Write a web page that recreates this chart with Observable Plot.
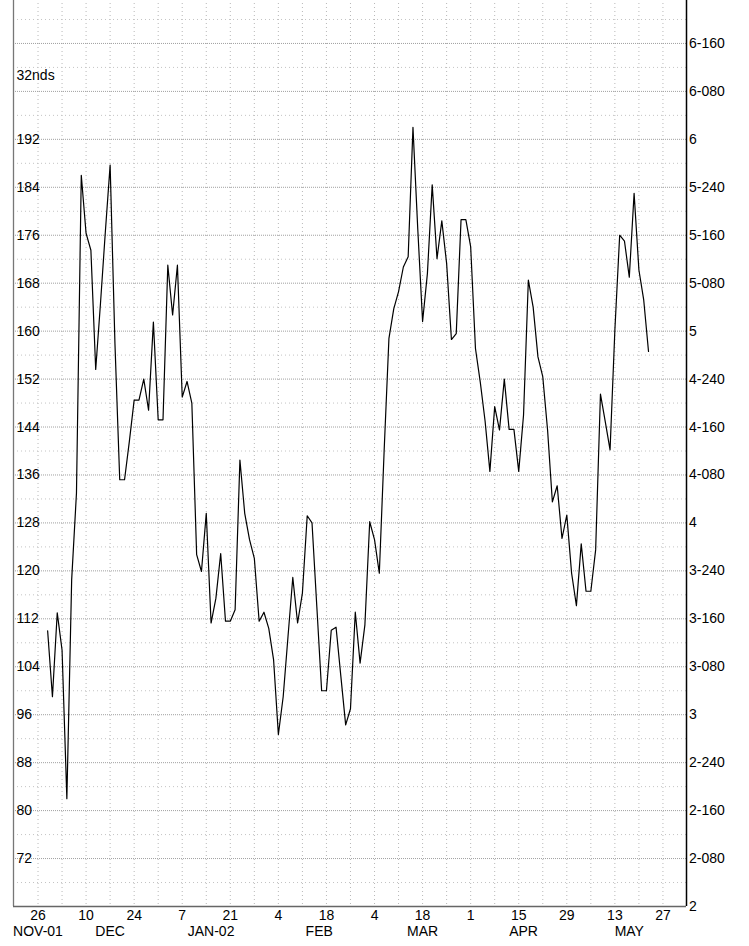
<!DOCTYPE html>
<html>
<head>
<meta charset="utf-8">
<script src="https://cdn.jsdelivr.net/npm/d3@7"></script>
<script src="https://cdn.jsdelivr.net/npm/@observablehq/plot@0.6"></script>
<style>
  html, body { margin: 0; padding: 0; background: #fff; }
  #wrap { width: 749px; height: 946px; overflow: hidden; position: relative; }
  #wrap svg { display: block; margin-top: -25px; }
</style>
</head>
<body>
<div id="wrap"></div>
<script>
// Business-day index of the first value (index 0 = Mon 26 Nov 2001)
const firstIndex = 2;
// Prices in 32nds, one per business day (28 Nov 2001 .. 22 May 2002)
const prices = [
  110, 99, 113, 106.8, 82, 118.5, 133, 186, 176.3, 173.5,
  153.6, 164.7, 176.5, 187.7, 158, 135.2, 135.2, 141.6, 148.5, 148.5,
  152, 146.8, 161.5, 145.2, 145.2, 171, 162.7, 171, 149, 151.6,
  148, 122.7, 119.9, 129.6, 111.3, 115.4, 122.9, 111.6, 111.6, 113.5,
  138.5, 129.6, 125.2, 122.1, 111.6, 113.1, 110.4, 105.2, 92.7, 99,
  109, 118.9, 111.3, 116.3, 129.2, 128, 114, 100, 100, 110.1,
  110.6, 102.4, 94.3, 97, 113.1, 104.6, 111, 128.2, 125.2, 119.6,
  140, 158.8, 163.7, 166.6, 170.7, 172.4, 194, 177, 161.6, 169.6,
  184.4, 172.1, 178.4, 171.3, 158.6, 159.6, 178.6, 178.6, 174.1, 157.1,
  151.5, 145, 136.6, 147.4, 143.5, 152, 143.6, 143.6, 136.6, 146,
  168.5, 164, 155.7, 152.4, 143.5, 131.5, 134.2, 125.4, 129.3, 119.6,
  114.2, 124.5, 116.6, 116.6, 123.5, 149.5, 144.9, 140.2, 160.2, 176,
  175, 169, 183, 170.2, 165.2, 156.6
];

// Axis ticks / labels
const weekTicks = [0,5,10,15,20,25,30,35,40,45,50,55,60,65,70,75,80,85,90,95,100,105,110,115,120,125,130];
const dayTicks = [0,10,20,30,40,50,60,70,80,90,100,110,120,130];
const dayLabels = ["26","10","24","7","21","4","18","4","18","1","15","29","13","27"];
const monthPos = [0,15,36,58.5,80,101,123];
const monthLabels = ["NOV-01","DEC","JAN-02","FEB","MAR","APR","MAY"];
const leftTicks = [72,80,88,96,104,112,120,128,136,144,152,160,168,176,184,192];
const rightTicks = [64,72,80,88,96,104,112,120,128,136,144,152,160,168,176,184,192,200,208,216];
const rightLabels = ["2","2-080","2-160","2-240","3","3-080","3-160","3-240","4","4-080","4-160","4-240","5","5-080","5-160","5-240","6","6-080","6-160","6-240"];
const majorY = [64,72,80,88,96,104,112,120,128,136,144,152,160,168,176,184,192,200,208,216];
const minorY = [68,76,84,92,100,108,116,124,132,140,148,156,164,172,180,188,196,204,212];
const unitLabel = "32nds";
const unitLabelY = 202.7;

const xDomain = [-5.1, 134.9];
const yDomain = [64, 216];

const series = prices.map((v, i) => ({k: i + firstIndex, v}));

const chart = Plot.plot({
  width: 749,
  height: 976,
  marginLeft: 13,
  marginRight: 63,
  marginTop: 20,
  marginBottom: 45,
  x: {domain: xDomain, axis: null},
  y: {domain: yDomain, axis: null},
  style: {fontFamily: "'Liberation Sans', Arial, sans-serif", fontSize: "14px", background: "white", overflow: "visible"},
  marks: [
    Plot.ruleX(weekTicks, {x: d => d, stroke: "#b8b8b8", strokeDasharray: "1,3"}),
    Plot.ruleY(minorY, {y: d => d, stroke: "#c4c4c4", strokeDasharray: "1,3"}),
    Plot.ruleY(majorY, {y: d => d, stroke: "#a0a0a0", strokeDasharray: "1,1"}),
    Plot.line(series, {x: "k", y: "v", stroke: "black", strokeWidth: 1.2}),
    Plot.ruleX([xDomain[0]], {stroke: "#777", strokeWidth: 1.3}),
    Plot.ruleY([yDomain[0]], {stroke: "#666", strokeWidth: 1.5}),
    Plot.ruleX([xDomain[1]], {stroke: "black", strokeWidth: 1.5}),
    Plot.text(leftTicks, {x: xDomain[0], y: d => d, text: d => String(d), textAnchor: "start", dx: 3, fontSize: 14, fill: "black"}),
    Plot.text([unitLabel], {x: xDomain[0], y: unitLabelY, text: d => d, textAnchor: "start", dx: 3, fontSize: 14, fill: "black"}),
    Plot.text(rightTicks, {x: xDomain[1], y: d => d, text: (d, i) => rightLabels[i], textAnchor: "start", dx: 2.5, fontSize: 14, fill: "black"}),
    Plot.text(dayTicks, {x: d => d, y: yDomain[0], text: (d, i) => dayLabels[i], dy: 9, fontSize: 14, fill: "black"}),
    Plot.text(monthPos, {x: d => d, y: yDomain[0], text: (d, i) => monthLabels[i], dy: 25, fontSize: 14, fill: "black"})
  ]
});
document.getElementById("wrap").appendChild(chart);
</script>
</body>
</html>
